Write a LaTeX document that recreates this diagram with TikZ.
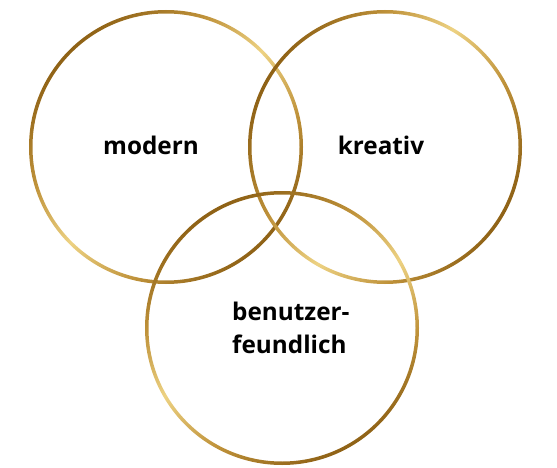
\documentclass[tikz,border=0pt]{standalone}
\usepackage{fontspec}
\setmainfont{Open Sans}
\usepackage{tikz}
\usepackage{xcolor}

\definecolor{golddark}{HTML}{8F6216}
\definecolor{goldmid}{HTML}{BF923A}
\definecolor{goldlight}{HTML}{EDD283}

\pgfdeclarehorizontalshading{goldring}{100bp}{color(0bp)=(golddark); color(25bp)=(golddark); color(38bp)=(goldmid); color(50bp)=(goldlight); color(63bp)=(goldmid); color(75bp)=(golddark); color(100bp)=(golddark)}

\tikzset{
  ring/.style={shading=goldring, even odd rule},
  word/.style={anchor=base, inner sep=0pt, font=\fontsize{24.3}{33}\selectfont\bfseries}
}

\begin{document}
\begin{tikzpicture}[x=1pt,y=-1pt]
        \useasboundingbox (0,0) rectangle (557,468);
        \coordinate (cmod) at (166,147);
        \coordinate (ckre) at (385,147);
        \coordinate (cben) at (282,328);
        \shade[ring, shading angle=-45] (cmod) circle (137) (cmod) circle (133.5);
        \shade[ring, shading angle=-30] (ckre) circle (137) (ckre) circle (133.5);
        \shade[ring, shading angle=-60] (cben) circle (137) (cben) circle (133.5);
        \node[word] (modern) at (151,154) {modern};
        \node[word] (kreativ) at (381,154) {kreativ};
        \node[word, align=left, anchor=base west] (benutzer) at (232,353) {benutzer-\\feundlich};
    \end{tikzpicture}
\end{document}
